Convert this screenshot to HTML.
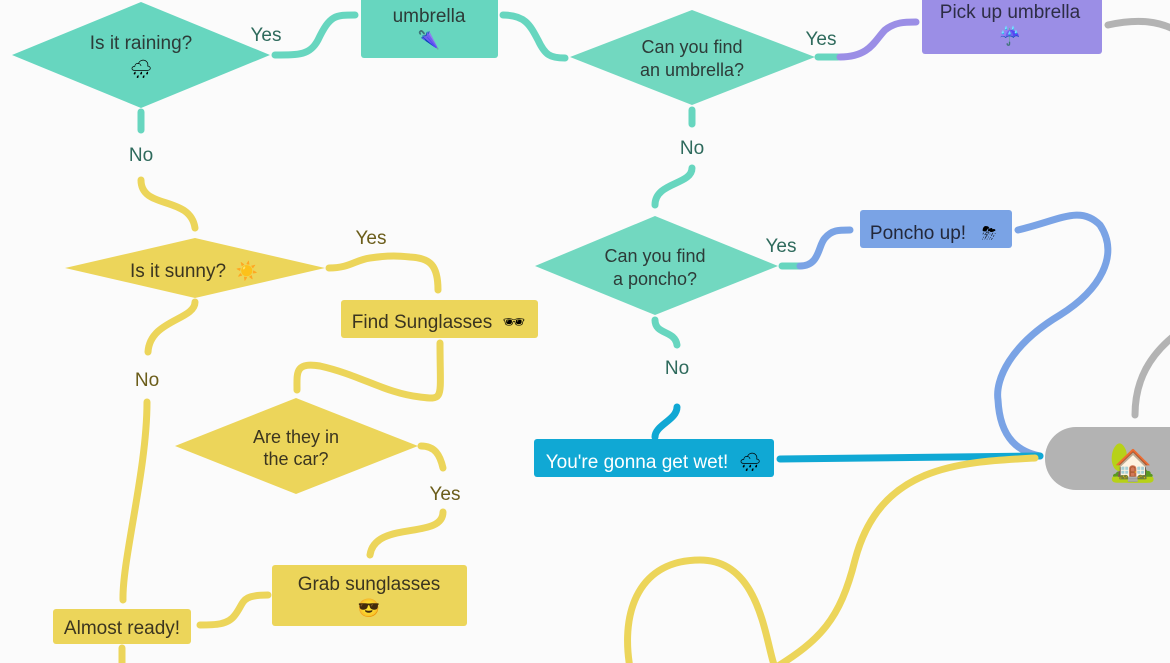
<!DOCTYPE html>
<html><head><meta charset="utf-8"><style>
html,body{margin:0;padding:0;width:1170px;height:663px;overflow:hidden;background:#fbfbfb;}
svg{display:block;font-family:"Liberation Sans",sans-serif;}
</style></head><body>
<svg width="1170" height="663" viewBox="0 0 1170 663">
<g fill="none" stroke-linecap="round" stroke-width="7">
<path d="M275 55 C300 55 310 55 318 40 C330 15 335 15 355 15" stroke="#67d6bf"/>
<path d="M503 15 C525 15 530 25 538 40 C545 55 550 58 565 58" stroke="#67d6bf"/>
<path d="M141 112 L141 130" stroke="#67d6bf"/>
<path d="M692 110 L692 124" stroke="#67d6bf"/>
<path d="M692 168 C692 185 655 182 655 205" stroke="#67d6bf"/>
<path d="M655 320 C655 335 675 330 677 345" stroke="#67d6bf"/>
<path d="M782 266 L800 266" stroke="#67d6bf"/>
<path d="M818 57 L838 57" stroke="#67d6bf"/>
<path d="M840 57 C870 57 875 40 885 30 C895 22 905 22 916 22" stroke="#9b8ee6"/>
<path d="M800 266 C820 266 818 245 825 238 C832 230 838 230 850 230" stroke="#7aa3e5"/>
<path d="M1018 230 C1060 220 1080 205 1100 225 C1120 255 1100 290 1060 315 C1010 345 995 380 998 400 C1000 440 1020 452 1040 456" stroke="#7aa3e5"/>
<path d="M677 407 C677 420 655 425 655 437" stroke="#10a8d4"/>
<path d="M780 459 L1040 456" stroke="#10a8d4"/>
<path d="M1108 25 C1140 18 1160 22 1175 30" stroke="#b3b3b3"/>
<path d="M1135 415 C1135 380 1150 355 1175 335" stroke="#b3b3b3"/>
<path d="M141 180 C141 210 190 195 195 228" stroke="#ecd55a"/>
<path d="M329 268 C350 268 355 260 370 258 C390 255 400 256 410 257 C430 258 438 265 438 290" stroke="#ecd55a"/>
<path d="M195 302 C195 320 150 320 148 352" stroke="#ecd55a"/>
<path d="M147 402 C147 470 122 560 123 600" stroke="#ecd55a"/>
<path d="M440 343 C440 400 445 400 420 397 C385 393 360 375 320 366 C295 362 297 372 297 390" stroke="#ecd55a"/>
<path d="M421 446 C435 446 440 455 443 468" stroke="#ecd55a"/>
<path d="M443 512 C443 540 375 520 370 555" stroke="#ecd55a"/>
<path d="M268 595 C240 595 245 602 235 615 C228 625 215 625 200 625" stroke="#ecd55a"/>
<path d="M122 648 L122 668" stroke="#ecd55a"/>
<path d="M1035 458 C960 462 880 465 855 560 C840 620 820 640 775 668 C765 640 760 560 700 560 C640 560 620 610 630 668" stroke="#ecd55a"/>
</g>
<rect x="1045" y="427" width="160" height="63" rx="31" fill="#b3b3b3"/>
<text x="1133" y="475" font-size="38" text-anchor="middle">🏡</text>
<polygon points="12,55 141,2 270,55 141,108" fill="#67d6bf"/>
<text x="141" y="49" font-size="19" text-anchor="middle" fill="#2d3b38">Is it raining?</text>
<text x="141" y="75" font-size="18" text-anchor="middle">🌧</text>
<polygon points="570,57 692,10 815,57 692,105" fill="#72d8c0"/>
<text x="692" y="53" font-size="18" text-anchor="middle" fill="#2d3b38">Can you find</text>
<text x="692" y="76" font-size="18" text-anchor="middle" fill="#2d3b38">an umbrella?</text>
<polygon points="535,266 655,216 778,266 655,315" fill="#72d8c0"/>
<text x="655" y="262" font-size="18" text-anchor="middle" fill="#2d3b38">Can you find</text>
<text x="655" y="285" font-size="18" text-anchor="middle" fill="#2d3b38">a poncho?</text>
<polygon points="65,268 195,238 325,268 195,298" fill="#ecd55a"/>
<text x="178" y="277" font-size="19" text-anchor="middle" fill="#3b3520">Is it sunny?</text>
<text x="247" y="277" font-size="18" text-anchor="middle">☀️</text>
<polygon points="175,446 296,398 418,446 296,494" fill="#ecd55a"/>
<text x="296" y="443" font-size="18" text-anchor="middle" fill="#3b3520">Are they in</text>
<text x="296" y="465" font-size="18" text-anchor="middle" fill="#3b3520">the car?</text>
<rect x="361" y="-5" width="137" height="63" rx="3" fill="#67d6bf"/>
<text x="429" y="22" font-size="19" text-anchor="middle" fill="#2d3b38">umbrella</text>
<text x="429" y="46" font-size="18" text-anchor="middle">🌂</text>
<rect x="922" y="-5" width="180" height="59" rx="3" fill="#9b8ee6"/>
<text x="1010" y="18" font-size="19" text-anchor="middle" fill="#2d2d45">Pick up umbrella</text>
<text x="1010" y="42" font-size="18" text-anchor="middle">☔</text>
<rect x="860" y="210" width="152" height="38" rx="3" fill="#7aa3e5"/>
<text x="918" y="239" font-size="19" text-anchor="middle" fill="#23283a">Poncho up!</text>
<text x="989" y="239" font-size="18" text-anchor="middle">⛈</text>
<rect x="534" y="439" width="240" height="38" rx="3" fill="#10a8d4"/>
<text x="637" y="468" font-size="19" text-anchor="middle" fill="#ffffff">You're gonna get wet!</text>
<text x="750" y="468" font-size="18" text-anchor="middle">🌧</text>
<rect x="341" y="300" width="197" height="38" rx="3" fill="#ecd55a"/>
<text x="422" y="328" font-size="19" text-anchor="middle" fill="#3b3520">Find Sunglasses</text>
<text x="514" y="328" font-size="18" text-anchor="middle">🕶</text>
<rect x="272" y="565" width="195" height="61" rx="3" fill="#ecd55a"/>
<text x="369" y="590" font-size="19" text-anchor="middle" fill="#3b3520">Grab sunglasses</text>
<text x="369" y="614" font-size="18" text-anchor="middle">😎</text>
<rect x="53" y="609" width="138" height="35" rx="3" fill="#ecd55a"/>
<text x="122" y="634" font-size="19" text-anchor="middle" fill="#3b3520">Almost ready!</text>
<g font-size="19" text-anchor="middle">
<text x="266" y="41" fill="#2e6a5c">Yes</text>
<text x="141" y="161" fill="#2e6a5c">No</text>
<text x="821" y="45" fill="#2e6a5c">Yes</text>
<text x="692" y="154" fill="#2e6a5c">No</text>
<text x="781" y="252" fill="#2e6a5c">Yes</text>
<text x="677" y="374" fill="#2e6a5c">No</text>
<text x="371" y="244" fill="#6b5d1a">Yes</text>
<text x="147" y="386" fill="#6b5d1a">No</text>
<text x="445" y="500" fill="#6b5d1a">Yes</text>
</g>
</svg>
</body></html>
